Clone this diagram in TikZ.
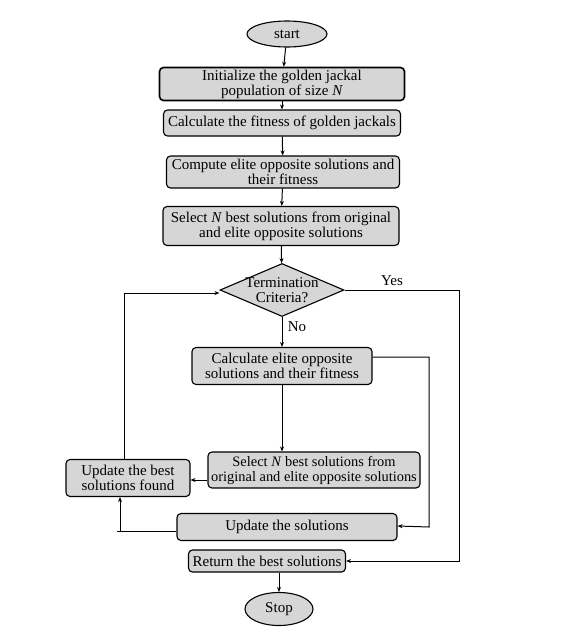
\documentclass[tikz,border=0pt]{standalone}
\usepackage{fontspec}
\setmainfont{Liberation Serif}
\usetikzlibrary{positioning, arrows.meta, shapes.geometric}
\definecolor{BoxGray}{RGB}{214,214,214}

\begin{document}
\begin{tikzpicture}[
    x=1pt, y=-1pt,
    proc/.style={rectangle, rounded corners=4pt, draw, line width=1.1pt, fill=BoxGray,
                 align=center, inner sep=1pt, font=\fontsize{15}{15}\selectfont},
    term/.style={ellipse, draw, line width=1.1pt, fill=BoxGray, inner sep=0pt,
                 font=\fontsize{15}{15}\selectfont},
    dec/.style={diamond, draw, line width=1.1pt, fill=BoxGray, aspect=2.34, inner sep=-5pt,
                align=center, font=\fontsize{15}{15}\selectfont},
    arr/.style={-{Stealth[length=5pt,width=4pt]}, line width=1pt},
    lbl/.style={font=\fontsize{15}{15}\selectfont}
]
  \useasboundingbox (0,0) rectangle (573,635);

  \node[term, minimum width=80pt, minimum height=26pt] (start) at (287,34) {start};
  \node[proc, line width=1.6pt, minimum width=245pt, minimum height=33pt] (init) at (282,84)
    {Initialize the golden jackal\\population of size \textit{N}};
  \node[proc, minimum width=237pt, minimum height=26pt] (fit) at (282,123)
    {Calculate the fitness of golden jackals};
  \node[proc, minimum width=233pt, minimum height=32pt] (elite) at (283,172)
    {Compute elite opposite solutions and\\their fitness};
  \node[proc, minimum width=236pt, minimum height=39pt] (sel) at (281,226)
    {Select \textit{N} best solutions from original\\and elite opposite solutions};
  \node[dec, minimum width=124pt, minimum height=53pt] (term) at (282,290)
    {Termination\\Criteria?};
  \node[proc, minimum width=180pt, minimum height=37pt] (calc) at (282,366)
    {Calculate elite opposite\\solutions and their fitness};
  \node[proc, inner sep=0pt, font=\fontsize{14.4}{15}\selectfont,
        minimum width=212pt, minimum height=36pt] (sel2) at (314,470)
    {Select \textit{N} best solutions from\\original and elite opposite solutions};
  \node[proc, minimum width=124pt, minimum height=37pt] (best) at (128,478)
    {Update the best\\solutions found};
  \node[proc, minimum width=220pt, minimum height=27pt] (upd) at (287,527)
    {Update the solutions};
  \node[proc, minimum width=157pt, minimum height=22pt] (ret) at (267,561)
    {Return the best solutions};
  \node[term, minimum width=68pt, minimum height=33pt] (stop) at (279,609) {Stop};

  \node[lbl] (yes) at (392,281) {Yes};
  \node[lbl] (no) at (297,327) {No};

  \coordinate (yesR) at (459,290);
  \coordinate (calcR) at (429,357);
  \coordinate (updL) at (120,531);
  \coordinate (bestT) at (124,293);

  \draw[arr] (start) -- (init);
  \draw[arr] (init) -- (fit);
  \draw[arr] (fit) -- (elite);
  \draw[arr] (elite) -- (sel);
  \draw[arr] (sel) -- (term);
  \draw[arr] (term) -- (calc);
  \draw[arr] (calc) -- (calc |- sel2.north);
  \draw[arr] (sel2.west |- 0,480) -- (best.east |- 0,480);
  \draw[arr] (upd.west |- updL) -- (updL) -- (updL |- best.south);
  \draw[line width=1pt] ([xshift=-3pt]updL) -- (updL);
  \draw[arr] (bestT |- best.north) -- (bestT) -- (term.west |- bestT);
  \draw[arr] (calc.east |- calcR) -- (calcR) -- (calcR |- upd.east) -- (upd.east |- 0,526);
  \draw[arr] (term.east) -- (yesR) -- (yesR |- ret.east) -- (ret.east);
  \draw[arr] (ret.south -| stop) -- (stop);
\end{tikzpicture}
\end{document}
